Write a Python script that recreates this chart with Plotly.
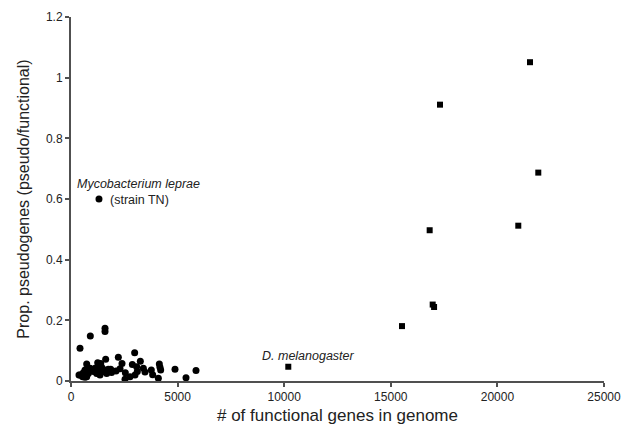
import plotly.graph_objects as go

# Bacteria / archaea (circles)
bact_x = [1313, 422, 906, 1595, 1595, 1626, 2220, 2986, 2392, 2877, 3252, 4143, 4174, 4206,
          4878, 5863, 5394, 4097, 3767, 3830, 3471, 3111, 2767, 2533, 2548, 2111, 1862, 1393,
          1252, 736, 657, 579, 375, 547, 736, 1126, 1282, 1438, 1517, 1204, 1360, 1595, 1673,
          1047, 1329, 1751, 891, 813, 3080, 3393, 3002, 422, 657, 1900, 2300]
bact_y = [0.600, 0.108, 0.148, 0.174, 0.163, 0.072, 0.078, 0.093, 0.058, 0.054, 0.065, 0.056,
          0.045, 0.036, 0.039, 0.035, 0.011, 0.009, 0.036, 0.021, 0.030, 0.031, 0.014, 0.006,
          0.027, 0.033, 0.039, 0.058, 0.060, 0.056, 0.036, 0.027, 0.020, 0.014, 0.014, 0.042,
          0.036, 0.045, 0.031, 0.025, 0.020, 0.036, 0.025, 0.031, 0.049, 0.039, 0.042, 0.025,
          0.047, 0.042, 0.020, 0.020, 0.012, 0.028, 0.040]

# Eukaryotes (squares)
euk_x = [21529, 21918, 17308, 20980, 16823, 16965, 17030, 15525, 10192]
euk_y = [1.051, 0.687, 0.911, 0.512, 0.497, 0.252, 0.244, 0.181, 0.047]

x_ticks = [0, 5000, 10000, 15000, 20000, 25000]
y_ticks = [0, 0.2, 0.4, 0.6, 0.8, 1.0, 1.2]
y_tick_text = ["0", "0.2", "0.4", "0.6", "0.8", "1", "1.2"]

FONT = "Liberation Sans, Arial, sans-serif"
AXC = "#505050"

fig = go.Figure()
fig.add_trace(go.Scatter(x=bact_x, y=bact_y, mode="markers",
                         marker=dict(symbol="circle", size=7, color="black"),
                         cliponaxis=False, showlegend=False))
fig.add_trace(go.Scatter(x=euk_x, y=euk_y, mode="markers",
                         marker=dict(symbol="square", size=6, color="black"),
                         cliponaxis=False, showlegend=False))

fig.add_annotation(x=1313, y=0.600, xref="x", yref="y", text="<i>Mycobacterium leprae</i>",
                   showarrow=False, xanchor="left", yanchor="middle", xshift=-24, yshift=15,
                   font=dict(family=FONT, size=12.5, color="#222"))
fig.add_annotation(x=1313, y=0.600, xref="x", yref="y", text="(strain TN)",
                   showarrow=False, xanchor="left", yanchor="middle", xshift=9, yshift=-1,
                   font=dict(family=FONT, size=12.5, color="#222"))
fig.add_annotation(x=10192, y=0.047, xref="x", yref="y", text="<i>D. melanogaster</i>",
                   showarrow=False, xanchor="left", yanchor="middle", xshift=-28, yshift=11,
                   font=dict(family=FONT, size=12.5, color="#222"))

# the page body adds an 8px offset, so the figure is sized 8px smaller on each side
fig.update_layout(
    width=623, height=430,
    margin=dict(l=63, r=27, t=9, b=57),
    paper_bgcolor="white", plot_bgcolor="white",
    font=dict(family=FONT, size=12, color="#222"),
)
fig.update_xaxes(range=[0, 25000], tickvals=x_ticks, ticktext=[str(v) for v in x_ticks],
                 automargin=False,
                 showgrid=False, zeroline=False, showline=True, linecolor=AXC, linewidth=2,
                 ticks="outside", ticklen=4, tickcolor=AXC, tickwidth=1.5,
                 title=dict(text="# of functional genes in genome", font=dict(size=17), standoff=6))
fig.update_yaxes(range=[0, 1.2], tickvals=y_ticks, ticktext=y_tick_text,
                 automargin=False, ticklabelstandoff=0,
                 showgrid=False, zeroline=False, showline=True, linecolor=AXC, linewidth=2,
                 ticks="outside", ticklen=4, tickcolor=AXC, tickwidth=1.5,
                 title=dict(text="Prop. pseudogenes (pseudo/functional)", font=dict(size=16), standoff=12))

fig.write_html("out.html")
